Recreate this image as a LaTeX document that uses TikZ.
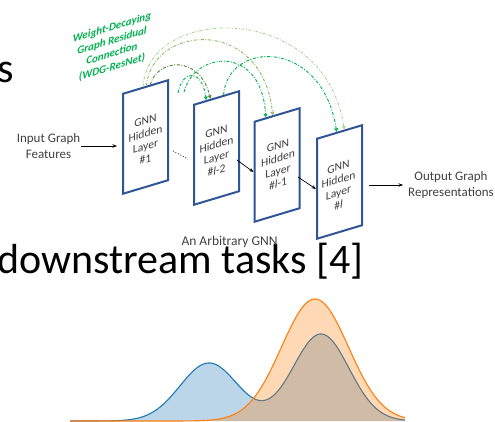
\documentclass[tikz,border=0pt]{standalone}
\usepackage{fontspec}
\setmainfont{Carlito}
\usetikzlibrary{arrows.meta,calc}
\definecolor{boxblue}{RGB}{47,85,151}
\definecolor{txtgray}{RGB}{64,64,64}
\definecolor{gbright}{RGB}{0,176,80}
\definecolor{gdark}{RGB}{84,130,53}
\definecolor{gmid}{RGB}{140,185,100}
\definecolor{glight}{RGB}{172,214,150}
\definecolor{tabblue}{RGB}{31,119,180}
\definecolor{taborange}{RGB}{255,127,14}
\begin{document}
\begin{tikzpicture}[x=1pt,y=-1pt,
  layerbox/.style={draw=boxblue, line width=2pt, fill=white, minimum width=45pt, minimum height=100pt, inner sep=0pt, transform shape},
  layertext/.style={text=txtgray, font=\fontsize{11.6}{12.9}\selectfont, align=center, inner sep=0pt, transform shape},
  lab/.style={text=txtgray, font=\fontsize{13}{16}\selectfont, align=center, inner sep=0pt},
  res/.style={line width=0.9pt, dash pattern=on 3pt off 1.6pt on 0.9pt off 1.6pt, -{Triangle[open,length=3.5pt,width=4pt]}},
  flow/.style={line width=0.7pt, -{Stealth[length=4.5pt,width=3.5pt]}},
  big/.style={font=\fontsize{42}{50}\selectfont, inner sep=0pt, anchor=base west},
  declare function={sq(\t)=\t*\t;
    gb(\x)=58*exp(-0.5*min(sq((\x-209)/29),18))+87*exp(-0.5*min(sq((\x-321)/28),18));
    go(\x)=122*exp(-0.5*min(sq((\x-315)/33.5),18));}
]
\useasboundingbox (0,0) rectangle (495,422);

% slide text
\node[big] (s1) at (-3,83) {s};
\node[big] (ds) at (-3,273) {downstream tasks [4]};

% green label
\begin{scope}[shift={(112,47.5)}, yslant=0.3]
  \node[transform shape, text=gbright, align=center, inner sep=0pt,
        font=\fontsize{11}{13.2}\selectfont\bfseries\itshape] (wdg) at (0,0)
        {Weight-Decaying\\Graph Residual\\Connection\\(WDG-ResNet)};
\end{scope}

% layer boxes
\begin{scope}[shift={(145.5,137)}, yslant=0.3]
  \node[layerbox] (b1) at (0,0) {};
  \node[layertext] (t1) at (0,3) {GNN\\Hidden\\Layer\\\#1};
\end{scope}
\begin{scope}[shift={(216.5,148)}, yslant=0.3]
  \node[layerbox] (b2) at (0,0) {};
  \node[layertext] (t2) at (0,3) {GNN\\Hidden\\Layer\\\#\textit{l}-2};
\end{scope}
\begin{scope}[shift={(277,165)}, yslant=0.3]
  \node[layerbox] (b3) at (0,0) {};
  \node[layertext] (t3) at (1,0) {GNN\\Hidden\\Layer\\\#\textit{l}-1};
\end{scope}
\begin{scope}[shift={(339.5,182)}, yslant=0.3]
  \node[layerbox] (b4) at (0,0) {};
  \node[layertext] (t4) at (-1,4) {GNN\\Hidden\\Layer\\\#\textit{l}};
\end{scope}

% labels
\node[lab] (inlab) at (48.5,146) {Input Graph\\Features};
\node[lab] (outlab) at (451,185) {Output Graph\\Representations};
\node[lab, font=\fontsize{13.5}{16}\selectfont] (gnnlab) at (229.5,241.5) {An Arbitrary GNN};

% flow connectors
\draw[flow, shorten <=1pt, shorten >=5pt] (inlab.east) -- (inlab.east -| b1.west);
\draw[flow, shorten <=6pt, shorten >=5pt] (b4.east |- outlab.west) -- (outlab.west);
\coordinate (dotS) at (173,151);
\coordinate (dotE) at (188,159);
\draw[dotted, line width=0.8pt] (dotS) -- (dotE);
\coordinate (a23) at (237,160);
\coordinate (a34) at (298,177);
\draw[flow] (a23) -- (b3.west);
\draw[flow] (a34) -- (b4.west);

% residual connections
\coordinate (s14) at ($(b1.north west)!0.45!(b1.north east)$);
\coordinate (s13) at ($(b1.north west)!0.52!(b1.north east)$);
\coordinate (s12) at ($(b1.north west)!0.60!(b1.north east)$);
\coordinate (e02) at ($(b2.north west)!0.28!(b2.north east)$);
\coordinate (e12) at ($(b2.north west)!0.37!(b2.north east)$);
\coordinate (s24) at ($(b2.north west)!0.65!(b2.north east)$);
\coordinate (e03) at ($(b3.north west)!0.26!(b3.north east)$);
\coordinate (e13) at ($(b3.north west)!0.41!(b3.north east)$);
\coordinate (e24) at ($(b4.north west)!0.44!(b4.north east)$);
\coordinate (e14) at ($(b4.north west)!0.60!(b4.north east)$);
\coordinate (f1) at (178,93);
\coordinate (f2) at (184,92);

\draw[res, glight] (s14) .. controls (147,5) and (325,0) .. (e14);
\draw[res, gmid] (s13) .. controls (152,25) and (262,15) .. (e13);
\draw[res, gdark] (s12) .. controls (158,58) and (200,55) .. (e12);
\draw[res, gbright] (f1) .. controls (182,70) and (202,68) .. (e02);
\draw[res, gbright] (f2) .. controls (195,50) and (262,45) .. (e03);
\draw[res, gbright] (s24) .. controls (228,40) and (322,38) .. (e24);

% distributions
\fill[tabblue, fill opacity=0.3] (70,421) -- plot[domain=70:405,samples=170] (\x,{421-gb(\x)}) -- (405,421) -- cycle;
\draw[tabblue, line width=1.1pt] plot[domain=70:405,samples=170] (\x,{421-gb(\x)});
\fill[taborange, fill opacity=0.3] (70,421) -- plot[domain=70:405,samples=170] (\x,{421-go(\x)}) -- (405,421) -- cycle;
\draw[taborange, line width=1.1pt] plot[domain=70:405,samples=170] (\x,{421-go(\x)});
\end{tikzpicture}
\end{document}
